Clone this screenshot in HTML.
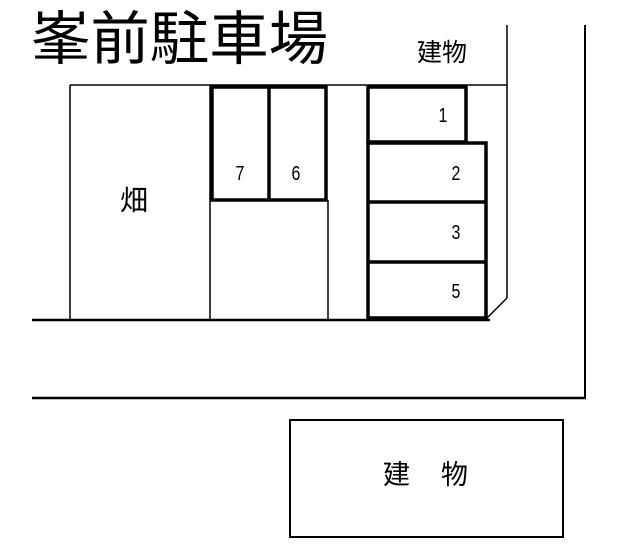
<!DOCTYPE html>
<html><head><meta charset="utf-8"><style>
html,body{margin:0;padding:0;background:#fff;width:630px;height:549px;overflow:hidden}
svg text{font-family:"Liberation Sans","Noto Sans CJK JP",sans-serif;fill:#000}
</style></head><body>
<svg width="630" height="549" viewBox="0 0 630 549" xmlns="http://www.w3.org/2000/svg">
<text x="31" y="59" font-size="58" textLength="297" lengthAdjust="spacingAndGlyphs">峯前駐車場</text>
<text x="417" y="61" font-size="25">建物</text>
<g stroke="#000" fill="none">
<line x1="507" y1="25" x2="507" y2="298" stroke-width="1.5"/>
<line x1="507" y1="298" x2="487" y2="318" stroke-width="1.5"/>
<line x1="585" y1="25" x2="585" y2="399" stroke-width="2"/>
<line x1="70" y1="85" x2="507" y2="85" stroke-width="1.5"/>
<line x1="70" y1="85" x2="70" y2="320" stroke-width="1.5"/>
<line x1="210" y1="85" x2="210" y2="320" stroke-width="1.5"/>
<line x1="328" y1="200" x2="328" y2="320" stroke-width="1.5"/>
<line x1="32" y1="320" x2="490" y2="320" stroke-width="2.5"/>
<line x1="32" y1="398" x2="586" y2="398" stroke-width="2.5"/>
<rect x="212" y="87" width="114" height="113" stroke-width="3.5"/>
<line x1="269" y1="87" x2="269" y2="200" stroke-width="3.5"/>
<rect x="368" y="87" width="98" height="55" stroke-width="3.5"/>
<rect x="368" y="143" width="118" height="175" stroke-width="3.5"/>
<line x1="368" y1="202" x2="486" y2="202" stroke-width="3.5"/>
<line x1="368" y1="262" x2="486" y2="262" stroke-width="3.5"/>
<rect x="290" y="420" width="273" height="117" stroke-width="2"/>
</g>
<text x="120" y="210" font-size="28">畑</text>
<g font-size="20" text-anchor="middle">
<text transform="translate(240,180) scale(0.8,1)">7</text>
<text transform="translate(296,180) scale(0.8,1)">6</text>
<text transform="translate(443,122) scale(0.8,1)">1</text>
<text transform="translate(456,180) scale(0.8,1)">2</text>
<text transform="translate(456,239) scale(0.8,1)">3</text>
<text transform="translate(456,298) scale(0.8,1)">5</text>
</g>
<text x="383" y="484" font-size="27">建</text>
<text x="441" y="484" font-size="27">物</text>
</svg>
</body></html>
